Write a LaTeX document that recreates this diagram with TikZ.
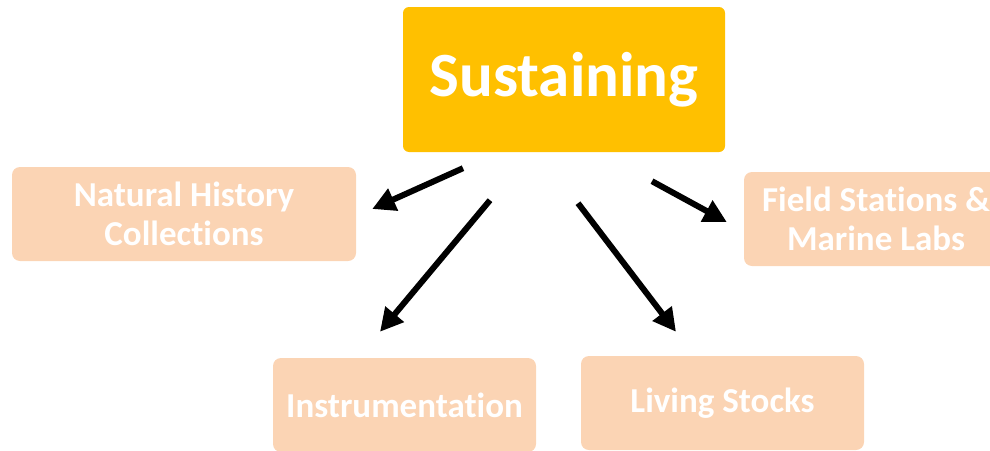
\documentclass[tikz,border=0pt]{standalone}
\usepackage{fontspec}
\setmainfont{Carlito}[Ligatures=NoCommon]
\usepackage{tikz}
\usetikzlibrary{calc}
\usetikzlibrary{arrows.meta}
\definecolor{sustgold}{HTML}{FFC000}
\definecolor{peach}{HTML}{FBD4B4}
\tikzset{
    hub/.style={fill=sustgold, draw=none, rounded corners=6pt, minimum width=322pt, minimum height=145pt, inner sep=0pt, text=white, font=\bfseries\fontsize{63}{70}\selectfont},
    leaf/.style={fill=peach, draw=none, rounded corners=8pt, minimum height=94pt, inner sep=0pt, text=white, align=center, font=\bfseries\fontsize{35}{39}\selectfont},
    arr/.style={line width=6pt, -{Triangle[length=23pt,width=23pt]}}
}

\begin{document}
\begin{tikzpicture}[x=1pt,y=-1pt]
        \useasboundingbox (0,0) rectangle (990,450);
        \clip (0,0) rectangle (990,450);

        % centre
        \node[hub] (sus) at (564,79.5) {Sustaining};

        % branches
        \node[leaf, minimum width=344pt] (nat) at (184,214) {Natural History\\Collections};
        \node[leaf, minimum width=264pt] (fld) at (876,219) {Field Stations \&\\Marine Labs};
        \node[leaf, minimum width=263pt] (ins) at (404.5,405) {Instrumentation};
        \node[leaf, minimum width=283pt] (liv) at (722.5,403) {Living Stocks};

        % arrows
        \draw[arr] ($(sus.south)+(-101,16)$) -- ($(nat.east)+(16,-5)$);
        \draw[arr] ($(sus.south)+(-74,48)$) -- ($(ins.north)+(-24.5,-26)$);
        \draw[arr] ($(sus.south)+(14,51)$) -- ($(liv.north)+(-46.5,-24)$);
        \draw[arr] ($(sus.south)+(88,29)$) -- ($(fld.west)+(-17,3)$);
\end{tikzpicture}
\end{document}
